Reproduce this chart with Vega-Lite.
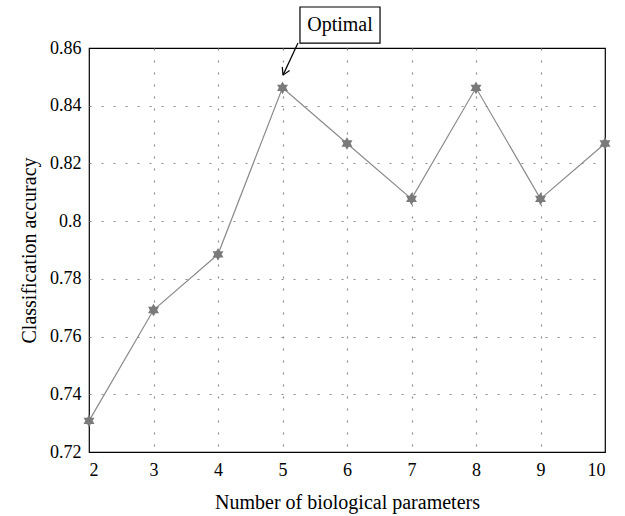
{
  "$schema": "https://vega.github.io/schema/vega-lite/v6.json",
  "autosize": {"type": "none"},
  "width": 516,
  "height": 404,
  "padding": {"left": 89, "top": 48, "right": 20, "bottom": 64},
  "config": {
    "view": {"stroke": "#000000", "strokeWidth": 1.2},
    "font": "Liberation Serif",
    "axis": {
      "labelFont": "Liberation Serif",
      "titleFont": "Liberation Serif",
      "labelFontSize": 18,
      "titleFontSize": 20,
      "titleFontWeight": "normal",
      "labelColor": "#000000",
      "titleColor": "#000000",
      "domain": false,
      "ticks": false,
      "gridColor": "#8c8c8c",
      "gridDash": [2, 10],
      "gridWidth": 1.2
    }
  },
  "layer": [
    {
      "data": {"values": [
        {"params": 2, "accuracy": 0.7308},
        {"params": 3, "accuracy": 0.7692},
        {"params": 4, "accuracy": 0.7885},
        {"params": 5, "accuracy": 0.8462},
        {"params": 6, "accuracy": 0.8269},
        {"params": 7, "accuracy": 0.8077},
        {"params": 8, "accuracy": 0.8462},
        {"params": 9, "accuracy": 0.8077},
        {"params": 10, "accuracy": 0.8269}
      ]},
      "layer": [
        {
          "mark": {"type": "line", "color": "#8a8a8a", "strokeWidth": 1.2},
          "encoding": {
            "x": {"field": "params", "type": "quantitative",
                  "scale": {"domain": [2, 10], "nice": false, "zero": false},
                  "axis": {"values": [2, 3, 4, 5, 6, 7, 8, 9, 10], "format": "d", "labelPadding": 9, "titlePadding": 13, "title": "Number of biological parameters",
                           "gridOpacity": {"condition": {"test": "datum.value <= 2 || datum.value >= 10", "value": 0}, "value": 1}}},
            "y": {"field": "accuracy", "type": "quantitative",
                  "scale": {"domain": [0.72, 0.86], "nice": false, "zero": false},
                  "axis": {"values": [0.72, 0.74, 0.76, 0.78, 0.8, 0.82, 0.84, 0.86], "format": "~g", "labelPadding": 8, "titlePadding": 10, "title": "Classification accuracy",
                           "gridOpacity": {"condition": {"test": "datum.value <= 0.721 || datum.value >= 0.859", "value": 0}, "value": 1}}}
          }
        },
        {
          "mark": {"type": "point", "filled": true, "color": "#7a7a7a", "opacity": 1, "size": 160, "strokeWidth": 0,
                   "shape": "M0,-1L0.2887,-0.5L0.866,-0.5L0.577,0L0.866,0.5L0.2887,0.5L0,1L-0.2887,0.5L-0.866,0.5L-0.577,0L-0.866,-0.5L-0.2887,-0.5Z"},
          "encoding": {
            "x": {"field": "params", "type": "quantitative"},
            "y": {"field": "accuracy", "type": "quantitative"}
          }
        }
      ]
    },
    {
      "data": {"values": [
        {"x1": 5.271, "x2": 6.512, "y1": 0.8742, "y2": 0.8617}
      ]},
      "mark": {"type": "rect", "fill": "#ffffff", "stroke": "#000000", "strokeWidth": 1.2},
      "encoding": {
        "x": {"field": "x1", "type": "quantitative"},
        "x2": {"field": "x2"},
        "y": {"field": "y1", "type": "quantitative"},
        "y2": {"field": "y2"}
      }
    },
    {
      "data": {"values": [
        {"x": 5.891, "y": 0.8679, "label": "Optimal"}
      ]},
      "mark": {"type": "text", "font": "Liberation Serif", "fontSize": 20, "color": "#000000", "baseline": "middle", "align": "center"},
      "encoding": {
        "x": {"field": "x", "type": "quantitative"},
        "y": {"field": "y", "type": "quantitative"},
        "text": {"field": "label"}
      }
    },
    {
      "data": {"values": [
        {"xa": 5.240, "ya": 0.8617, "xb": 5.008, "yb": 0.8506},
        {"xa": 5.110, "ya": 0.8522, "xb": 5.008, "yb": 0.8506},
        {"xa": 4.997, "ya": 0.8534, "xb": 5.008, "yb": 0.8506}
      ]},
      "mark": {"type": "rule", "color": "#000000", "strokeWidth": 1.2},
      "encoding": {
        "x": {"field": "xa", "type": "quantitative"},
        "y": {"field": "ya", "type": "quantitative"},
        "x2": {"field": "xb"},
        "y2": {"field": "yb"}
      }
    }
  ]
}
